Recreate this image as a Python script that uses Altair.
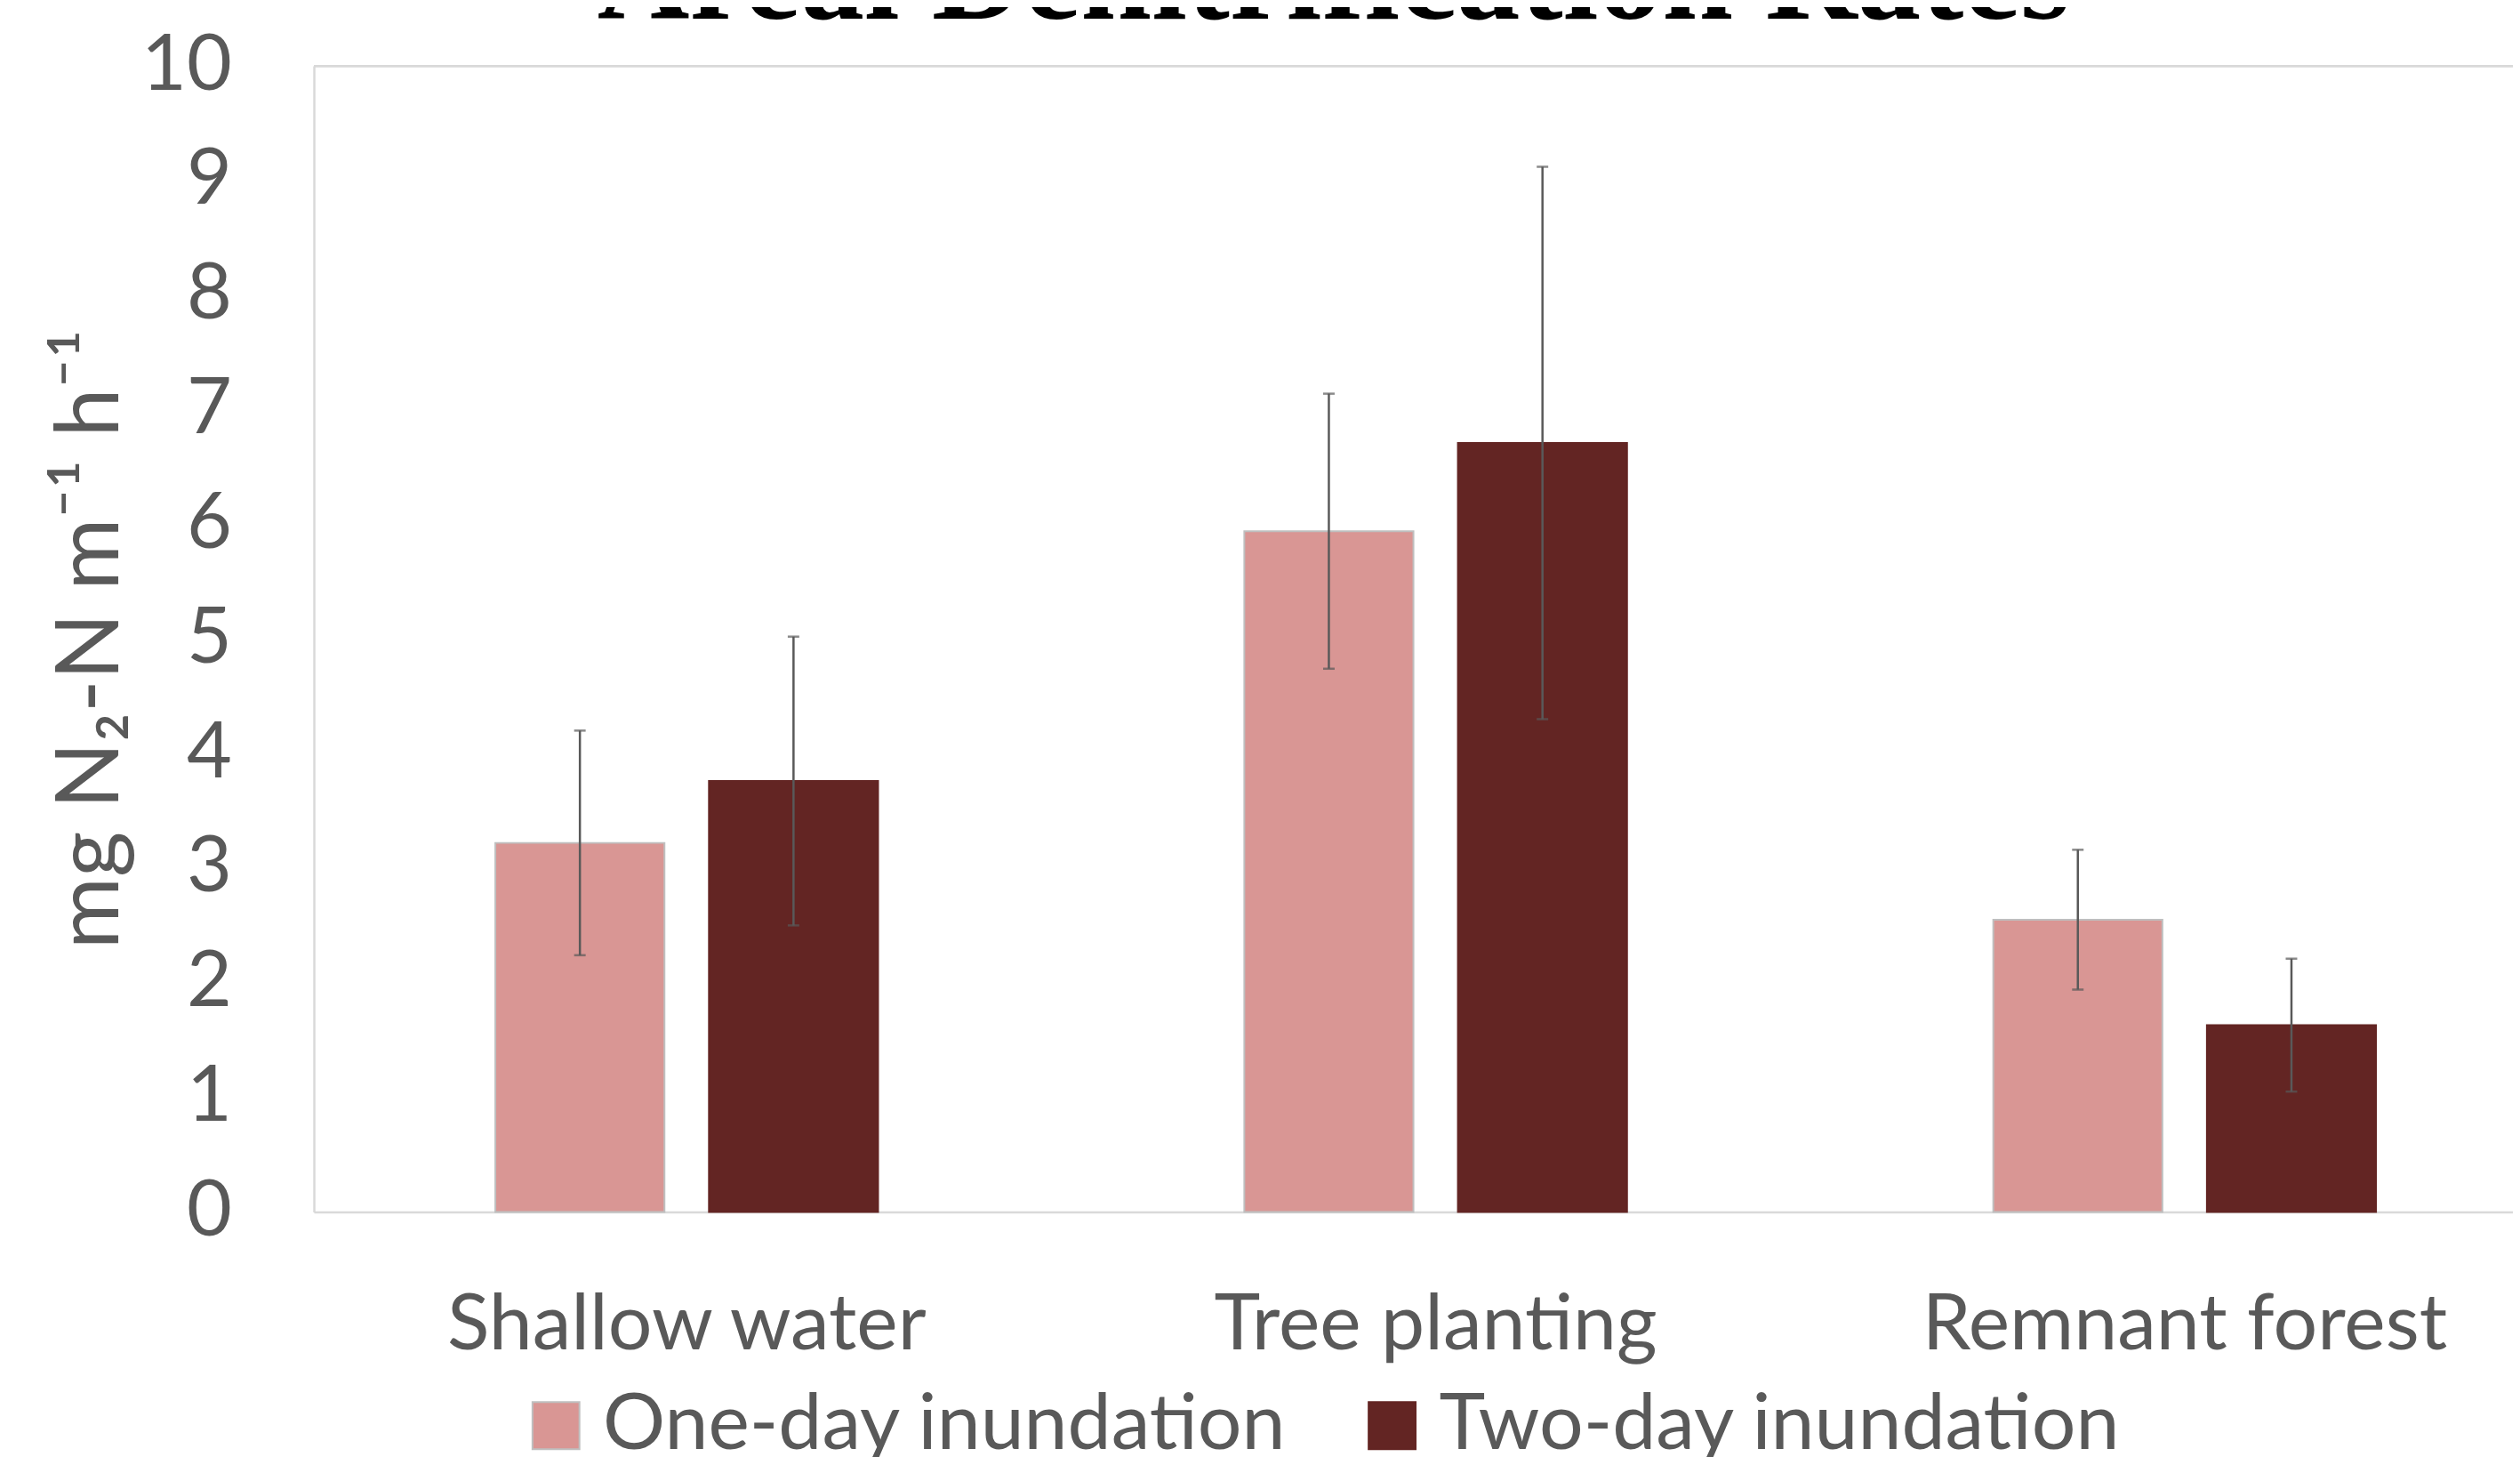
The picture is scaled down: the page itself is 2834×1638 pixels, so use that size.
import altair as alt
import pandas as pd

categories = ["Shallow water", "Tree planting", "Remnant forest"]
series_names = ["One-day inundation", "Two-day inundation"]
one_day = [3.22, 5.94, 2.55]
one_day_err = [0.98, 1.20, 0.61]
two_day = [3.76, 6.71, 1.63]
two_day_err = [1.26, 2.41, 0.58]
y_ticks = [0, 1, 2, 3, 4, 5, 6, 7, 8, 9, 10]

rows = []
for i, c in enumerate(categories):
    rows.append({"category": c, "series": series_names[0], "value": one_day[i], "err": one_day_err[i]})
    rows.append({"category": c, "series": series_names[1], "value": two_day[i], "err": two_day_err[i]})
df = pd.DataFrame(rows)

SVG_W = 2826
SVG_H = 1630
PAD_L = 346
PAD_T = 64
W = SVG_W - PAD_L
H = 1292
PAD_B = SVG_H - PAD_T - H

TXT = "#595959"
FONT = "Lato"

x_enc = alt.X("category:N", sort=categories, title=None,
              scale=alt.Scale(paddingInner=0.489, paddingOuter=0.2125, align=0.57),
              axis=alt.Axis(labelAngle=0, labelFont=FONT, labelFontSize=88, labelColor=TXT,
                            labelBaseline="alphabetic", labelPadding=154, ticks=False, tickSize=0,
                            domainColor="#D9D9D9", domainWidth=2.5, labelLimit=2000))
xo_enc = alt.XOffset("series:N", sort=series_names,
                     scale=alt.Scale(paddingInner=0.2083, paddingOuter=0))

base = alt.Chart(df).transform_calculate(
    lo="datum.value - datum.err", hi="datum.value + datum.err"
)

legend = alt.Legend(title=None, orient="none", legendX=229, legendY=1489, direction="horizontal",
                    columns=2, symbolType="square", symbolSize=2809, symbolStrokeWidth=2,
                    labelFont=FONT, labelFontSize=88, labelColor=TXT, labelOffset=9,
                    columnPadding=74, padding=0, labelLimit=2000)

bars = base.mark_bar(strokeWidth=2).encode(
    x=x_enc,
    xOffset=xo_enc,
    y=alt.Y("value:Q", title="mg N₂-N m⁻¹ h⁻¹",
            scale=alt.Scale(domain=[0, 10], nice=False, zero=True),
            axis=alt.Axis(values=y_ticks, format="d", grid=False, ticks=False, tickSize=0,
                          labelFont=FONT, labelFontSize=88, labelColor=TXT, labelPadding=93,
                          domainColor="#D9D9D9", domainWidth=2.5,
                          titleFont=FONT, titleFontSize=99, titleColor=TXT, titleFontWeight="normal",
                          titleAngle=270, titleX=-221, titleY=H / 2, titleAlign="center",
                          titleBaseline="alphabetic")),
    color=alt.Color("series:N", sort=series_names,
                    scale=alt.Scale(domain=series_names, range=["#D99694", "#632523"]),
                    legend=legend),
    stroke=alt.Stroke("series:N", sort=series_names,
                      scale=alt.Scale(domain=series_names, range=["#BFBFBF", "#632523"]),
                      legend=legend),
)

err_rule = base.mark_rule(color="#595959", strokeWidth=2.5).encode(
    x=alt.X("category:N", sort=categories),
    xOffset=alt.XOffset("series:N", sort=series_names),
    y="lo:Q", y2="hi:Q",
)
cap_hi = base.mark_tick(color="#595959", thickness=2.5, size=13).encode(
    x=alt.X("category:N", sort=categories),
    xOffset=alt.XOffset("series:N", sort=series_names),
    y="hi:Q",
)
cap_lo = base.mark_tick(color="#595959", thickness=2.5, size=13).encode(
    x=alt.X("category:N", sort=categories),
    xOffset=alt.XOffset("series:N", sort=series_names),
    y="lo:Q",
)

top_border = alt.Chart(df).mark_rule(color="#D9D9D9", strokeWidth=2.5).encode(
    x=alt.value(0), x2=alt.value(W), y=alt.value(0)
)

chart = alt.layer(top_border, bars, err_rule, cap_hi, cap_lo).properties(
    width=W, height=H,
    title=alt.TitleParams("Areal Denitrification Rates", font="Liberation Serif", fontSize=144,
                          fontWeight="bold", color="#000000", anchor="middle", dx=-90,
                          offset=13, dy=34),
    autosize=alt.AutoSizeParams(type="none"),
    padding={"left": PAD_L, "top": PAD_T, "right": 0, "bottom": PAD_B},
).configure_view(stroke=None).configure(background="white")

chart.save("out.html", embed_options={"renderer": "svg", "actions": False})
